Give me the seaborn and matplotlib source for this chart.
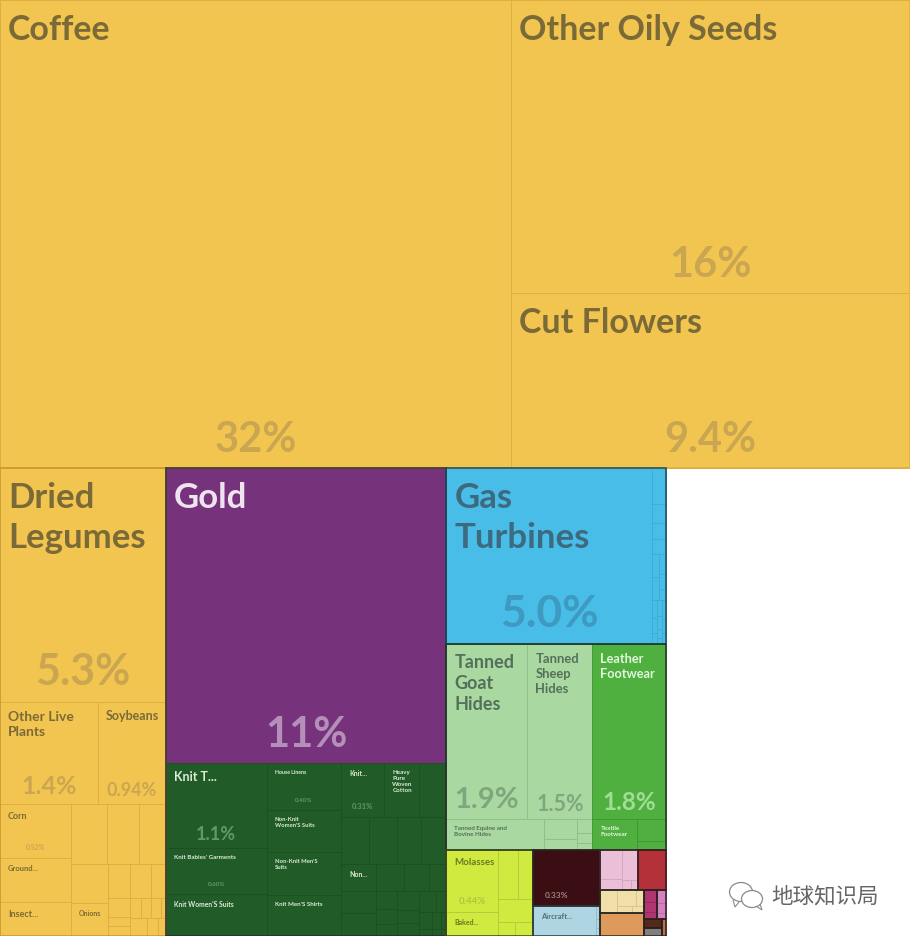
import matplotlib
matplotlib.use("Agg")
import matplotlib.pyplot as plt
from matplotlib.patches import Ellipse, Polygon
import pandas as pd
import seaborn as sns

# export shares in percent. "" = tile with no text
crops_top_values = [32.0, 15.65, 9.35]
crops_top_names = ["Coffee", "Other Oily Seeds", "Cut Flowers"]
crops_top_pcts = ["32%", "16%", "9.4%"]

crops_low_values = [5.2, 1.34, 0.93, 0.51, 0.42, 0.32, 0.29, 0.257, 0.217, 0.193, 0.163,
                    0.10, 0.096, 0.068, 0.056, 0.027, 0.029, 0.03, 0.028, 0.025, 0.015,
                    0.04, 0.025, 0.02]
crops_low_names = ["Dried\nLegumes", "Other Live\nPlants", "Soybeans", "Corn", "Ground...", "Insect...",
                   "", "", "", "", "Onions"]
crops_low_pcts = ["5.3%", "1.4%", "0.94%", "0.52%"]

gold_values = [11.05]
gold_names = ["Gold"]
gold_pcts = ["11%"]

textile_values = [1.14, 0.62, 0.56, 0.47, 0.42, 0.43, 0.41, 0.31, 0.253, 0.195,
                  0.176, 0.176, 0.151, 0.157, 0.126, 0.103, 0.108, 0.101, 0.09, 0.061,
                  0.05, 0.042, 0.034, 0.055, 0.04, 0.037,
                  0.045, 0.03, 0.03, 0.02, 0.012, 0.012, 0.008, 0.005]
textile_names = ["Knit T...", "Knit Babies' Garments", "Knit Women'S Suits", "House Linens",
                 "Non-Knit\nWomen'S Suits", "Non-Knit Men'S\nSuits", "Knit Men'S Shirts",
                 "Knit...", "Heavy\nPure\nWoven\nCotton", "", "", "", "", "", "Non..."]
textile_pcts = ["1.1%", "0.60%", "", "0.40%", "", "", "", "0.31%"]

machine_values = [4.85, 0.066, 0.037, 0.03, 0.028, 0.02, 0.02, 0.02, 0.015, 0.011,
                  0.012, 0.01, 0.008, 0.01, 0.008, 0.006, 0.004, 0.01, 0.008, 0.006]
machine_names = ["Gas\nTurbines"]
machine_pcts = ["5.0%"]

hide_values = [1.9, 1.52, 0.41, 0.088, 0.049, 0.03, 0.02, 0.016]
hide_names = ["Tanned\nGoat\nHides", "Tanned\nSheep\nHides", "Tanned Equine and\nBovine Hides"]
hide_pcts = ["1.9%", "1.5%"]

footwear_values = [1.73, 0.187, 0.085, 0.035]
footwear_names = ["Leather\nFootwear", "Textile\nFootwear"]
footwear_pcts = ["1.8%"]

food_values = [0.43, 0.167, 0.125, 0.098, 0.105, 0.03, 0.034]
food_names = ["Molasses", "Baked..."]
food_pcts = ["0.44%"]

maroon_values = [0.5]
maroon_pcts = ["0.33%"]
aircraft_values = [0.257, 0.007, 0.005, 0.004]
aircraft_names = ["Aircraft..."]
pink_values = [0.085, 0.032, 0.062, 0.012, 0.01]
red_values = [0.15]
cream_values = [0.05, 0.04, 0.018, 0.015, 0.012]
orange_values = [0.135]
magenta_values = [0.02, 0.018, 0.012]
lilac_values = [0.015, 0.012, 0.008]
brown_values = [0.022]
gray_values = [0.018]
copper_values = [0.009]
unused_values = [15.25]


def H(*kids):
    return ("h", kids)


def V(*kids):
    return ("v", kids)


def F(edge, child):
    # dark frame drawn round a whole part of the treemap
    return ("frame", edge, child)


# fill, tile line, name colour, percent colour, outline
sectors = {
    "crops_top": (crops_top_values, crops_top_names, crops_top_pcts, H(1, V(2)),
                  "#F2C550", "#DDAE40", "#7A6A38", "#CBA650", "#DDAE40"),
    "crops_low": (crops_low_values, crops_low_names, crops_low_pcts,
                  V(1, H(2), H(V(3), V(H(3), H(V(2), V(H(3), H(V(3), V(H(4), H(3)))))))),
                  "#F2C550", "#DDAE40", "#7A6A38", "#CBA650", "#C9982F"),
    "gold": (gold_values, gold_names, gold_pcts, H(1),
             "#76337C", "#5E2A66", "#EFE3F0", "#B48FBA", None),
    "textile": (textile_values, textile_names, textile_pcts,
                H(V(3), V(4), V(H(3), H(4), H(V(3), V(H(3), H(V(3), V(3), V(H(2), H(3), H(3))))))),
                "#215B27", "#1A4F20", "#DDEBD8", "#629A66", None),
    "machine": (machine_values, machine_names, machine_pcts,
                H(1, V(4, H(V(2), V(3)), H(V(3), V(4), V(3)))),
                "#48BDE8", "#40AAD2", "#3E6A80", "#3E9AC0", "#1C4A58"),
    "hide": (hide_values, hide_names, hide_pcts, V(H(2), H(1, V(2), V(3))),
             "#A9D9A0", "#8FBF88", "#55705A", "#7FA67D", None),
    "footwear": (footwear_values, footwear_names, footwear_pcts, V(1, H(1, V(2))),
                 "#4FAF3F", "#3F9433", "#E3F6DE", "#A0DE96", None),
    "food": (food_values, food_names, food_pcts, H(V(2), V(H(2), 1, H(2))),
             "#D0EA3F", "#B3CB35", "#6B7A22", "#AFC53C", "#3A4A20"),
    "maroon": (maroon_values, [""], maroon_pcts, H(1),
               "#3A0E12", "#3A0E12", "#B09090", "#A08080", "#2A2020"),
    "aircraft": (aircraft_values, aircraft_names, [""], H(1, V(3)),
                 "#AED6E2", "#93BCC8", "#4F6E78", "#7FA0AA", "#2A3A40"),
    "pink": (pink_values, [""], [""], H(V(2), V(1, H(2))),
             "#EBBFD8", "#D3A6C0", "#000000", "#000000", "#3A2A30"),
    "red": (red_values, [""], [""], H(1), "#B5313A", "#9C2932", "#000000", "#000000", "#3A1A20"),
    "cream": (cream_values, [""], [""], H(1, V(H(2), H(2))),
              "#F0DFA8", "#D6C48E", "#000000", "#000000", "#2A2A20"),
    "orange": (orange_values, [""], [""], H(1), "#DD9A5B", "#C5864B", "#000000", "#000000", "#2A2A20"),
    "magenta": (magenta_values, [""], [""], V(3), "#B0356F", "#96295C", "#000000", "#000000", "#2A2020"),
    "lilac": (lilac_values, [""], [""], V(3), "#D87FC0", "#BC6AA6", "#000000", "#000000", "#2A2020"),
    "brown": (brown_values, [""], [""], H(1), "#55281C", "#55281C", "#000000", "#000000", "#2A2020"),
    "gray": (gray_values, [""], [""], H(1), "#7F7F7F", "#7F7F7F", "#000000", "#000000", "#2A2020"),
    "copper": (copper_values, [""], [""], H(1), "#C0704A", "#C0704A", "#000000", "#000000", "#2A2020"),
    "unused": (unused_values, [""], [""], H(1), None, None, None, None, None),
}

treemap = V("crops_top",
            H("crops_low",
              F("#2A2A30", V("gold", "textile")),
              V("machine",
                F("#22382A", H("hide", "footwear")),
                H("food",
                  V("maroon", "aircraft"),
                  V(H("pink", "red"),
                    H(V("cream", "orange"),
                      V(H("magenta", "lilac"), H(V("brown", "gray"), "copper")))))),
              "unused"))

# font size in points for the name and the percent of each labelled tile
name_sizes = {"Coffee": 24.5, "Other Oily Seeds": 24.5, "Cut Flowers": 24.5, "Dried\nLegumes": 25, "Gold": 25,
              "Gas\nTurbines": 25, "Tanned\nGoat\nHides": 13, "Tanned\nSheep\nHides": 9.4,
              "Leather\nFootwear": 9.2, "Other Live\nPlants": 10, "Soybeans": 9, "Knit T...": 9,
              "Corn": 6.5, "Ground...": 5.5, "Insect...": 6.5, "Onions": 5, "Molasses": 7,
              "Baked...": 5, "Aircraft...": 5.5, "Tanned Equine and\nBovine Hides": 4.5,
              "Textile\nFootwear": 4.5, "Knit Babies' Garments": 4.5, "Knit Women'S Suits": 4.9,
              "House Linens": 3.8, "Non-Knit\nWomen'S Suits": 4.2, "Non-Knit Men'S\nSuits": 4.2,
              "Knit Men'S Shirts": 4.4, "Knit...": 5, "Heavy\nPure\nWoven\nCotton": 4.5, "Non...": 5}
pct_sizes = {"32%": 30, "16%": 30, "9.4%": 30, "5.3%": 31, "11%": 30, "5.0%": 32, "1.9%": 21, "1.5%": 15.5,
             "1.8%": 17.5, "1.4%": 18, "0.94%": 13, "1.1%": 13, "0.52%": 5, "0.60%": 4.5, "0.40%": 4.5,
             "0.31%": 5.5, "0.44%": 7, "0.33%": 6}
pct_shifts = {"0.33%": -10}


def expand(node):
    kids = []
    for k in node[1]:
        if isinstance(k, int) and k > 1:
            kids += [1] * k
        else:
            kids.append(k)
    return (node[0], kids)


def bind(node, sector, vals):
    # swap each 1 in a sector's tree for the next value of that sector
    if node == 1:
        return ("leaf", next(vals), sector)
    if isinstance(node, str):
        return ("sector", node, bind_sector(node))
    if node[0] == "frame":
        return ("frame", node[1], bind(node[2], sector, vals))
    node = expand(node)
    return (node[0], [bind(k, sector, vals) for k in node[1]])


def bind_sector(key):
    values, names, pcts, tree = sectors[key][:4]
    names = iter(list(names) + [""] * len(values))
    pcts = iter(list(pcts) + [""] * len(values))
    leaves = iter([(v, next(names), next(pcts)) for v in values])
    return bind(tree, key, leaves)


def weight(node):
    if node[0] == "leaf":
        return node[1][0]
    if node[0] in ("sector", "frame"):
        return weight(node[2])
    return sum(weight(k) for k in node[1])


tiles = []
outlines = []


def place(node, x, y, w, h):
    if node[0] == "leaf":
        value, name, pct = node[1]
        tiles.append(dict(sector=node[2], x=x, y=y, w=w, h=h, value=value, name=name, pct=pct))
    elif node[0] == "sector":
        outlines.append(dict(edge=sectors[node[1]][8], x=x, y=y, w=w, h=h))
        place(node[2], x, y, w, h)
    elif node[0] == "frame":
        outlines.append(dict(edge=node[1], x=x, y=y, w=w, h=h))
        place(node[2], x, y, w, h)
    else:
        total = weight(node)
        for k in node[1]:
            share = weight(k) / total
            if node[0] == "h":
                place(k, x, y, w * share, h)
                x += w * share
            else:
                place(k, x, y, w, h * share)
                y += h * share


root = bind(treemap, None, iter([]))
place(root, 0, 0, 910, 936)
df = pd.DataFrame(tiles)
df_out = pd.DataFrame(outlines)

sns.set_theme(style="white")
plt.rcParams["font.family"] = ["Lato", "DejaVu Sans"]

fig = plt.figure(figsize=(9.1, 9.36), dpi=100)
ax = fig.add_axes([0, 0, 1, 1])
ax.set_xlim(0, 910)
ax.set_ylim(936, 0)
ax.axis("off")

for key, part in df.groupby("sector", sort=False):
    fill, line = sectors[key][4:6]
    if fill is None:
        continue
    ax.bar(part["x"], part["h"], part["w"], bottom=part["y"], align="edge",
           color=fill, edgecolor=line, linewidth=0.6)

for _, row in df_out.iterrows():
    if row["edge"] is not None:
        ax.bar(row["x"], row["h"], row["w"], bottom=row["y"], align="edge",
               fill=False, edgecolor=row["edge"], linewidth=1.1)

for _, t in df.iterrows():
    name_col, pct_col = sectors[t["sector"]][6:8]
    if t["name"]:
        size = name_sizes[t["name"]]
        ax.text(t["x"] + 8, t["y"] + 5 + size * 0.36, t["name"], fontsize=size,
                fontweight="bold", color=name_col, va="top", ha="left", linespacing=1.3)
    if t["pct"]:
        size = pct_sizes[t["pct"]]
        ax.text(t["x"] + t["w"] / 2 + pct_shifts.get(t["pct"], 0), t["y"] + t["h"] - max(8, size * 0.55), t["pct"],
                fontsize=size, fontweight="bold", color=pct_col, va="baseline", ha="center")

# watermark bottom right
ax.add_patch(Ellipse((741, 892), 23, 19, fill=False, edgecolor="#8a8a8a", linewidth=0.9))
ax.add_patch(Ellipse((752, 899), 21, 17, facecolor="white", edgecolor="#8a8a8a", linewidth=0.9))
ax.add_patch(Polygon([[733, 900], [735, 907], [739, 902]], closed=False, fill=False, edgecolor="#8a8a8a", linewidth=0.8))
ax.add_patch(Polygon([[756, 906], [762, 910], [760, 904]], closed=False, fill=False, edgecolor="#8a8a8a", linewidth=0.8))
ax.text(771, 896, "地球知识局", fontsize=15.5, color="#666666", va="center", ha="left",
        family=["Noto Sans CJK SC", "DejaVu Sans"])

plt.savefig("out.png", dpi=100)
